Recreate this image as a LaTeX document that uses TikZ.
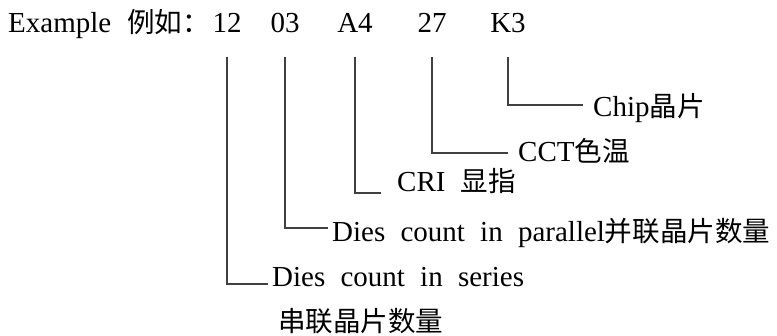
\documentclass[tikz,border=0pt]{standalone}
\usepackage{fontspec}
\setmainfont{Liberation Serif}[WordSpace=2.1]
\newfontfamily\cjk{Noto Sans CJK SC}[Scale=0.95]
\begin{document}
\begin{tikzpicture}[x=1pt,y=-1pt,
  txt/.style={inner sep=0pt, anchor=base west, font=\fontsize{29}{34}\selectfont},
  code/.style={inner sep=0pt, anchor=base, font=\fontsize{29}{34}\selectfont},
  conn/.style={line width=1.2pt, draw=black!75}]
\useasboundingbox (0,0) rectangle (777,336);
% title line
\node[txt] (ex) at (8,33) {Example};
\node[txt] (eg) at (127,33) {\cjk 例如：};
\node[code] (n12) at (227,33) {12};
\node[code] (n03) at (285,33) {03};
\node[code] (nA4) at (355,33) {A4};
\node[code] (n27) at (432,33) {27};
\node[code] (nK3) at (508,33) {K3};
% labels
\node[txt] (lchip) at (593,117) {Chip{\cjk 晶片}};
\node[txt] (lcct) at (518,162) {CCT{\cjk 色温}};
\node[txt] (lcri) at (397,192) {CRI {\cjk 显指}};
\node[txt] (lpar) at (332,242) {Dies count in parallel{\cjk 并联晶片数量}};
\node[txt] (lser) at (272,287) {Dies count in series};
\node[txt] (lser2) at (278,332) {\cjk 串联晶片数量};
% connector ends
\coordinate (eK3) at (583,105);
\coordinate (e27) at (508,153);
\coordinate (eA4) at (381,193);
\coordinate (e03) at (328,228);
\coordinate (e12) at (268,284);
% connectors
\draw[conn] ([yshift=-24pt]nK3.base) |- (eK3);
\draw[conn] ([yshift=-24pt]n27.base) |- (e27);
\draw[conn] ([yshift=-24pt]nA4.base) |- (eA4);
\draw[conn] ([yshift=-24pt]n03.base) |- (e03);
\draw[conn] ([yshift=-24pt]n12.base) |- (e12);
\end{tikzpicture}
\end{document}
